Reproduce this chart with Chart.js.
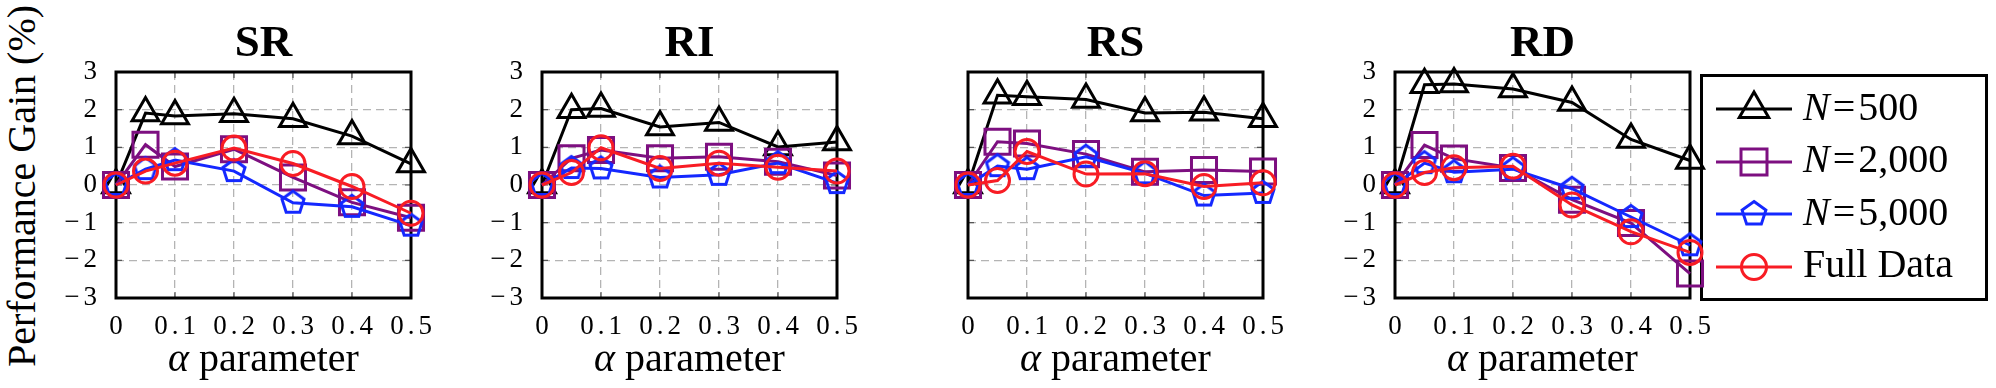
<!DOCTYPE html>
<html>
<head>
<meta charset="utf-8">
<script src="https://cdn.jsdelivr.net/npm/chart.js@4.4.1/dist/chart.umd.min.js"></script>
<style>
  html, body { margin: 0; padding: 0; background: #fff; }
  body { position: relative; width: 1996px; height: 388px; overflow: hidden; font-family: 'Liberation Serif', serif; color: #000; }
  canvas { position: absolute; top: 0; }
  .title { position: absolute; top: 19px; font-weight: bold; font-size: 45px; line-height: 45px; transform: translateX(-50%); white-space: nowrap; }
  .xlabel { position: absolute; top: 338px; font-size: 40px; line-height: 40px; transform: translateX(-50%); white-space: nowrap; }
  .ylabel { position: absolute; left: 21.5px; top: 186px; font-size: 40px; line-height: 40px; transform: translate(-50%, -50%) rotate(-90deg); white-space: nowrap; }
  #legend { position: absolute; left: 1700px; top: 74px; width: 282px; height: 221px; border: 3px solid #000; }
  .lg-icon { position: absolute; left: 1716px; }
  .lg-text { position: absolute; left: 1803px; font-size: 40px; line-height: 40px; white-space: nowrap; }
  .eq { margin: 0 3px; }
</style>
</head>
<body>
<div class="ylabel">Performance Gain (%)</div>
<div id="legend"></div>

<script>
// x positions of the points and tick labels
const alpha = [0, 0.05, 0.1, 0.2, 0.3, 0.4, 0.5];
const xTicks = [0, 0.1, 0.2, 0.3, 0.4, 0.5];
const xTickLabels = ['0', '0.1', '0.2', '0.3', '0.4', '0.5'];
const yTicks = [-3, -2, -1, 0, 1, 2, 3];
const yTickLabels = ['\u22123', '\u22122', '\u22121', '0', '1', '2', '3'];

const panelNames = ['SR', 'RI', 'RS', 'RD'];
const seriesNames = ['N=500', 'N=2,000', 'N=5,000', 'Full Data'];

// SR
const srN500  = [0, 1.91, 1.83, 1.89, 1.76, 1.30, 0.56];
const srN2000 = [0, 1.07, 0.49, 0.95, 0.20, -0.46, -0.87];
const srN5000 = [0, 0.42, 0.66, 0.37, -0.47, -0.58, -1.08];
const srFull  = [0, 0.37, 0.58, 0.98, 0.57, -0.04, -0.75];
// RI
const riN500  = [0, 2.00, 2.03, 1.54, 1.66, 1.01, 1.14];
const riN2000 = [0, 0.71, 0.93, 0.71, 0.75, 0.62, 0.25];
const riN5000 = [0, 0.45, 0.44, 0.20, 0.27, 0.58, 0.05];
const riFull  = [0, 0.33, 0.99, 0.44, 0.58, 0.47, 0.37];
// RS
const rsN500  = [0, 2.38, 2.34, 2.27, 1.91, 1.93, 1.76];
const rsN2000 = [0, 1.15, 1.10, 0.82, 0.35, 0.40, 0.36];
const rsN5000 = [0, 0.50, 0.42, 0.75, 0.31, -0.28, -0.21];
const rsFull  = [0, 0.12, 0.89, 0.29, 0.30, -0.04, 0.06];
// RD
const rdN500  = [0, 2.66, 2.68, 2.55, 2.19, 1.21, 0.65];
const rdN2000 = [0, 1.06, 0.70, 0.45, -0.39, -1.01, -2.35];
const rdN5000 = [0, 0.58, 0.34, 0.42, -0.10, -0.85, -1.60];
const rdFull  = [0, 0.33, 0.46, 0.50, -0.53, -1.24, -1.79];

const panelData = [
  [srN500, srN2000, srN5000, srFull],
  [riN500, riN2000, riN5000, riFull],
  [rsN500, rsN2000, rsN5000, rsFull],
  [rdN500, rdN2000, rdN5000, rdFull],
];

const PLOT_LEFTS = [116, 542, 968, 1395];
const PLOT_W = 295;
const Y_AXIS_W = 116;
const showYTicks = [true, true, false, true];

const colors = ['#000000', '#7d0f80', '#1428ff', '#f81c24'];

function pentagon(color, R, lw) {
  const s = Math.ceil(2 * (R + lw));
  const c = document.createElement('canvas');
  c.width = s; c.height = s;
  const ctx = c.getContext('2d');
  ctx.strokeStyle = color;
  ctx.lineWidth = lw;
  ctx.beginPath();
  for (let k = 0; k < 5; k++) {
    const a = -Math.PI / 2 + k * 2 * Math.PI / 5;
    const px = s / 2 + R * Math.cos(a), py = s / 2 + R * Math.sin(a);
    if (k === 0) ctx.moveTo(px, py); else ctx.lineTo(px, py);
  }
  ctx.closePath();
  ctx.stroke();
  return c;
}

const markers = [
  { pointStyle: 'triangle', pointRadius: 15.5 },
  { pointStyle: 'rect', pointRadius: 17.7 },
  { pointStyle: pentagon(colors[2], 11.6, 3), pointRadius: 12 },
  { pointStyle: 'circle', pointRadius: 12 },
];

// wider tick labels (the original uses a wide serif), frame and inner tick marks
const framePlugin = {
  id: 'frame',
  beforeDraw(chart) {
    chart.ctx.letterSpacing = '4px';
  },
  beforeDatasetsDraw(chart) {
    const { ctx, chartArea: a, scales } = chart;
    ctx.save();
    ctx.strokeStyle = '#555';
    ctx.lineWidth = 1.2;
    ctx.beginPath();
    xTicks.slice(1, -1).forEach((v) => {
      const px = scales.x.getPixelForValue(v);
      ctx.moveTo(px, a.bottom); ctx.lineTo(px, a.bottom - 6);
      ctx.moveTo(px, a.top); ctx.lineTo(px, a.top + 6);
    });
    yTicks.slice(1, -1).forEach((v) => {
      const py = scales.y.getPixelForValue(v);
      ctx.moveTo(a.left, py); ctx.lineTo(a.left + 6, py);
      ctx.moveTo(a.right, py); ctx.lineTo(a.right - 6, py);
    });
    ctx.stroke();
    ctx.strokeStyle = '#000';
    ctx.lineWidth = 3;
    ctx.strokeRect(a.left, a.top, a.right - a.left, a.bottom - a.top);
    ctx.restore();
  },
};

const gridStyle = { color: '#b4b4b4', lineWidth: 1.3, drawTicks: false };
const tickFont = { family: "'Liberation Serif', serif", size: 27, lineHeight: 1.2 };

panelNames.forEach((name, p) => {
  const canvas = document.createElement('canvas');
  canvas.width = Y_AXIS_W + PLOT_W + 40;
  canvas.height = 388;
  canvas.style.left = (PLOT_LEFTS[p] - Y_AXIS_W) + 'px';
  document.body.appendChild(canvas);

  const center = PLOT_LEFTS[p] + PLOT_W / 2;
  const t = document.createElement('div');
  t.className = 'title';
  t.style.left = center + 'px';
  t.textContent = name;
  document.body.appendChild(t);

  const xl = document.createElement('div');
  xl.className = 'xlabel';
  xl.style.left = center + 'px';
  xl.innerHTML = '<i>\u03b1</i> parameter';
  document.body.appendChild(xl);

  const datasets = panelData[p].map((vals, i) => ({
    label: seriesNames[i],
    data: alpha.map((a, k) => ({ x: a, y: vals[k] })),
    borderColor: colors[i],
    backgroundColor: 'rgba(0,0,0,0)',
    pointBorderColor: colors[i],
    pointBackgroundColor: 'rgba(0,0,0,0)',
    borderWidth: 3,
    pointBorderWidth: 3,
    pointStyle: markers[i].pointStyle,
    pointRadius: markers[i].pointRadius,
    tension: 0,
    clip: false,
    order: 3 - i,
  }));

  new Chart(canvas, {
    type: 'line',
    data: { datasets },
    options: {
      responsive: false,
      animation: false,
      devicePixelRatio: 1,
      events: [],
      layout: { padding: { top: 72, right: 40, bottom: 0, left: 0 } },
      plugins: { legend: { display: false }, tooltip: { enabled: false } },
      scales: {
        x: {
          type: 'linear',
          min: 0,
          max: 0.5,
          afterBuildTicks: (s) => { s.ticks = xTicks.map((v) => ({ value: v })); },
          afterFit: (s) => { s.height = 90; },
          ticks: {
            callback: (v, i) => xTickLabels[i],
            font: tickFont,
            color: '#000',
            padding: 13,
            labelOffset: 2,
            maxRotation: 0,
            autoSkip: false,
          },
          grid: gridStyle,
          border: { display: false, dash: [8, 5] },
        },
        y: {
          type: 'linear',
          min: -3,
          max: 3,
          afterBuildTicks: (s) => { s.ticks = yTicks.map((v) => ({ value: v })); },
          afterFit: (s) => { s.width = Y_AXIS_W; },
          ticks: {
            display: showYTicks[p],
            callback: (v, i) => yTickLabels[i],
            font: tickFont,
            color: '#000',
            padding: 15,
            autoSkip: false,
          },
          grid: gridStyle,
          border: { display: false, dash: [8, 5] },
        },
      },
    },
    plugins: [framePlugin],
  });
});

// legend
const legendLabels = [
  '<i>N</i><span class="eq">=</span>500',
  '<i>N</i><span class="eq">=</span>2,000',
  '<i>N</i><span class="eq">=</span>5,000',
  'Full Data',
];
function legendMarker(i) {
  const c = colors[i];
  const st = `fill="none" stroke="${c}" stroke-width="3"`;
  if (i === 0) {
    const r = 17, h = r * Math.sqrt(3) / 2;
    return `<polygon points="38,${20 - r} ${38 + h},${20 + r / 2} ${38 - h},${20 + r / 2}" ${st}/>`;
  }
  if (i === 1) return `<rect x="25" y="7" width="26" height="26" ${st}/>`;
  if (i === 2) {
    const R = 12.5;
    const pts = [0, 1, 2, 3, 4].map((k) => {
      const a = -Math.PI / 2 + k * 2 * Math.PI / 5;
      return `${(38 + R * Math.cos(a)).toFixed(2)},${(20 + R * Math.sin(a)).toFixed(2)}`;
    }).join(' ');
    return `<polygon points="${pts}" ${st}/>`;
  }
  return `<circle cx="38" cy="20" r="12.5" ${st}/>`;
}
legendLabels.forEach((lab, i) => {
  const cy = 109 + 52.55 * i;
  const icon = document.createElement('div');
  icon.className = 'lg-icon';
  icon.style.top = (cy - 20) + 'px';
  icon.innerHTML = `<svg width="76" height="40" viewBox="0 0 76 40"><line x1="0" y1="20" x2="76" y2="20" stroke="${colors[i]}" stroke-width="3"/>${legendMarker(i)}</svg>`;
  document.body.appendChild(icon);
  const txt = document.createElement('div');
  txt.className = 'lg-text';
  txt.style.top = (cy - 22.5) + 'px';
  txt.innerHTML = lab;
  document.body.appendChild(txt);
});
</script>
</body>
</html>
